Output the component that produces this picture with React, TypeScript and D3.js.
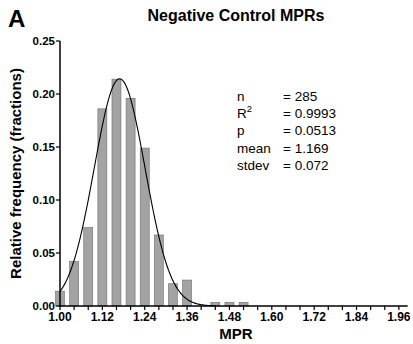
import React from "react";
import * as d3 from "d3";

const binCenters = [1.00, 1.04, 1.08, 1.12, 1.16, 1.20, 1.24, 1.28, 1.32, 1.36, 1.40, 1.44, 1.48, 1.52];
const frequencies = [0.014, 0.042, 0.074, 0.186, 0.214, 0.196, 0.149, 0.067, 0.021, 0.0245, 0, 0.0035, 0.0035, 0.0035];
const xTickValues = [1.00, 1.12, 1.24, 1.36, 1.48, 1.60, 1.72, 1.84, 1.96];
const yTickValues = [0.00, 0.05, 0.10, 0.15, 0.20, 0.25];
const statLabels = ["n", "R", "p", "mean", "stdev"];
const statValues = ["= 285", "= 0.9993", "= 0.0513", "= 1.169", "= 0.072"];
const fitMean = 1.169;
const fitSd = 0.072;
const fitAmp = 0.2145;

const FONT = "'Liberation Sans', Arial, sans-serif";

export default function App() {
  const W = 413, H = 344;
  const x = d3.scaleLinear().domain([1.0, 2.0]).range([60, 413]);
  const y = d3.scaleLinear().domain([0, 0.25]).range([306, 41]);
  const minorTicks = d3.range(0, 26).map((i) => 1.0 + i * 0.04).filter((v) => v <= 1.985);
  const curvePts = d3.range(0, 111).map((i) => 1.0 + i * 0.004);
  const line = d3
    .line<number>()
    .x((d) => x(d))
    .y((d) => y(fitAmp * Math.exp(-0.5 * ((d - fitMean) / fitSd) ** 2)))
    .curve(d3.curveBasis);
  const barW = 9;
  return (
    <svg width={W} height={H} style={{ position: "absolute", left: 0, top: 0, background: "#fff" }} fontFamily={FONT}>
      <text x={8} y={27} fontSize={24} fontWeight="bold">A</text>
      <text x={236} y={21} fontSize={16} fontWeight="bold" textAnchor="middle">Negative Control MPRs</text>
      {binCenters.map((c, i) =>
        frequencies[i] > 0 ? (
          <rect
            key={i}
            x={x(c) - barW / 2}
            y={y(frequencies[i])}
            width={barW}
            height={y(0) - y(frequencies[i])}
            fill="#a3a3a3"
            stroke="#6e6e6e"
            strokeWidth={0.6}
          />
        ) : null
      )}
      <path d={line(curvePts) || ""} fill="none" stroke="#000" strokeWidth={1.1} />
      {/* y axis */}
      <line x1={x(1.0)} x2={x(1.0)} y1={y(0)} y2={y(0.25)} stroke="#000" strokeWidth={1.5} />
      {yTickValues.map((v) => (
        <g key={v}>
          <line x1={x(1.0) - 4} x2={x(1.0)} y1={y(v)} y2={y(v)} stroke="#000" strokeWidth={1.2} />
          <text x={x(1.0) - 5} y={y(v) + 4} fontSize={11.5} fontWeight="bold" textAnchor="end">
            {v.toFixed(2)}
          </text>
        </g>
      ))}
      {/* x axis */}
      <line x1={x(1.0) - 0.75} x2={x(1.985)} y1={y(0)} y2={y(0)} stroke="#000" strokeWidth={1.5} />
      {minorTicks.map((v, i) => (
        <line key={i} x1={x(v)} x2={x(v)} y1={y(0)} y2={y(0) + 4} stroke="#000" strokeWidth={1.2} />
      ))}
      {xTickValues.map((v) => (
        <text key={v} x={x(v)} y={y(0) + 15} fontSize={12} fontWeight="bold" textAnchor="middle">
          {v.toFixed(2)}
        </text>
      ))}
      <text x={236} y={339} fontSize={15} fontWeight="bold" textAnchor="middle">MPR</text>
      <text
        transform={`translate(21, ${(y(0) + y(0.25)) / 2}) rotate(-90)`}
        fontSize={15}
        fontWeight="bold"
        textAnchor="middle"
      >
        Relative frequency (fractions)
      </text>
      {statLabels.map((s, i) => (
        <g key={s}>
          <text x={237} y={101 + i * 17.2} fontSize={13.5}>
            {s}
            {i === 1 ? <tspan fontSize={9.5} dy={-6}>2</tspan> : null}
          </text>
          <text x={283} y={101 + i * 17.2} fontSize={13.5}>{statValues[i]}</text>
        </g>
      ))}
    </svg>
  );
}
